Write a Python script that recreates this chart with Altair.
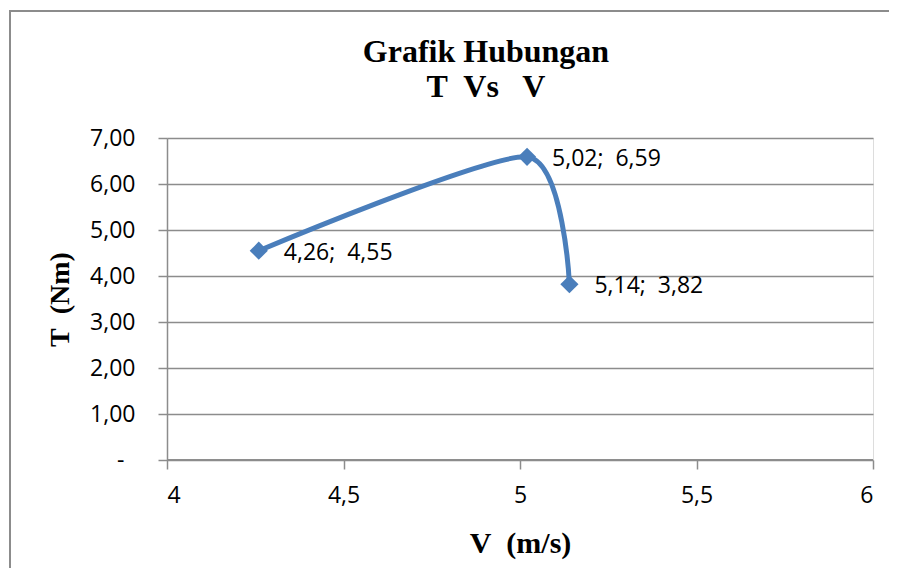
import altair as alt
import pandas as pd

# data
v_values = [4.26, 5.02, 5.14]
t_values = [4.55, 6.59, 3.82]
x_ticks = [4, 4.5, 5, 5.5, 6]
y_ticks = [0, 1, 2, 3, 4, 5, 6, 7]
title_lines = ["Grafik Hubungan", "T\u00a0 Vs \u00a0 V"]

def fmt2(v):
    return f"{v:.2f}".replace(".", ",")

df = pd.DataFrame({
    "V": v_values,
    "T": t_values,
    "label": [f"{fmt2(a)};\u00a0\u00a0{fmt2(b)}" for a, b in zip(v_values, t_values)],
})

BLUE = "#4A7EBB"
GRAY = "#8C8C8C"
LABEL_FONT = "Open Sans"
SERIF = "Liberation Serif"
FS = 23

W, H = 706, 322

x_enc = alt.X(
    "V:Q",
    scale=alt.Scale(domain=[4, 6], nice=False, zero=False),
    axis=alt.Axis(
        values=x_ticks,
        labelExpr="replace(datum.value + '', '.', ',')",
        grid=False,
        domain=False,
        tickColor=GRAY, tickWidth=1.5, tickSize=9,
        labelFont=LABEL_FONT, labelFontSize=FS, labelColor="#000000",
        labelPadding=15,
        title="V\u00a0 (m/s)",
        titleFont=SERIF, titleFontSize=30, titleFontWeight="bold", titleColor="#000000",
        titleX=W / 2, titleY=83, titleBaseline="middle",
    ),
)
y_enc = alt.Y(
    "T:Q",
    scale=alt.Scale(domain=[0, 7], nice=False),
    axis=alt.Axis(
        values=y_ticks,
        labelExpr="datum.value == 0 ? '-' : replace(format(datum.value, '.2f'), '.', ',')",
        grid=True, gridColor=GRAY, gridWidth=1.5,
        domain=True, domainColor=GRAY, domainWidth=1.5,
        tickColor=GRAY, tickWidth=1.5, tickSize=9,
        labelFont=LABEL_FONT, labelFontSize=FS, labelColor="#000000",
        labelPadding={"condition": {"test": "datum.value == 0", "value": 34}, "value": 23},
        title="T\u00a0 (Nm)",
        titleFont=SERIF, titleFontSize=28, titleFontWeight="bold", titleColor="#000000",
        titleAngle=-90, titleX=-107, titleY=H / 2, titleBaseline="middle", titleAlign="center",
    ),
)

base = alt.Chart(df)

baseline = base.mark_rule(color=GRAY, strokeWidth=1.5).encode(
    x=alt.value(0), x2=alt.value(W), y=alt.value(H)
)

line = base.mark_line(color=BLUE, strokeWidth=5, interpolate="cardinal", tension=0.3).encode(
    x=x_enc, y=y_enc, order="V:Q"
)
points = base.mark_point(shape="diamond", filled=True, size=330, color=BLUE, opacity=1).encode(
    x="V:Q", y="T:Q"
)
labels = base.mark_text(
    align="left", baseline="middle", dx=25, dy=2,
    font=LABEL_FONT, fontSize=FS, color="#000000",
).encode(x="V:Q", y="T:Q", text="label:N")

one = pd.DataFrame({"a": [0]})
frame = alt.Chart(one).mark_rect(
    fill=None, stroke=GRAY, strokeWidth=2, clip=False
).encode(
    x=alt.value(-157), x2=alt.value(760), y=alt.value(-127), y2=alt.value(700)
)
title = alt.Chart(one).mark_text(
    text=title_lines, font=SERIF, fontSize=32, fontWeight="bold", color="#000000",
    lineHeight=35, align="center", baseline="alphabetic",
).encode(x=alt.value(319), y=alt.value(-76))

chart = alt.layer(frame, title, baseline, line, points, labels).properties(
    width=W, height=H,
    autosize=alt.AutoSizeParams(type="none"),
    padding={"left": 159, "top": 130, "right": 16, "bottom": 108},
).configure_view(stroke=None).configure(background="#ffffff")

chart.save("out.html", embed_options={"renderer": "svg", "actions": False})
